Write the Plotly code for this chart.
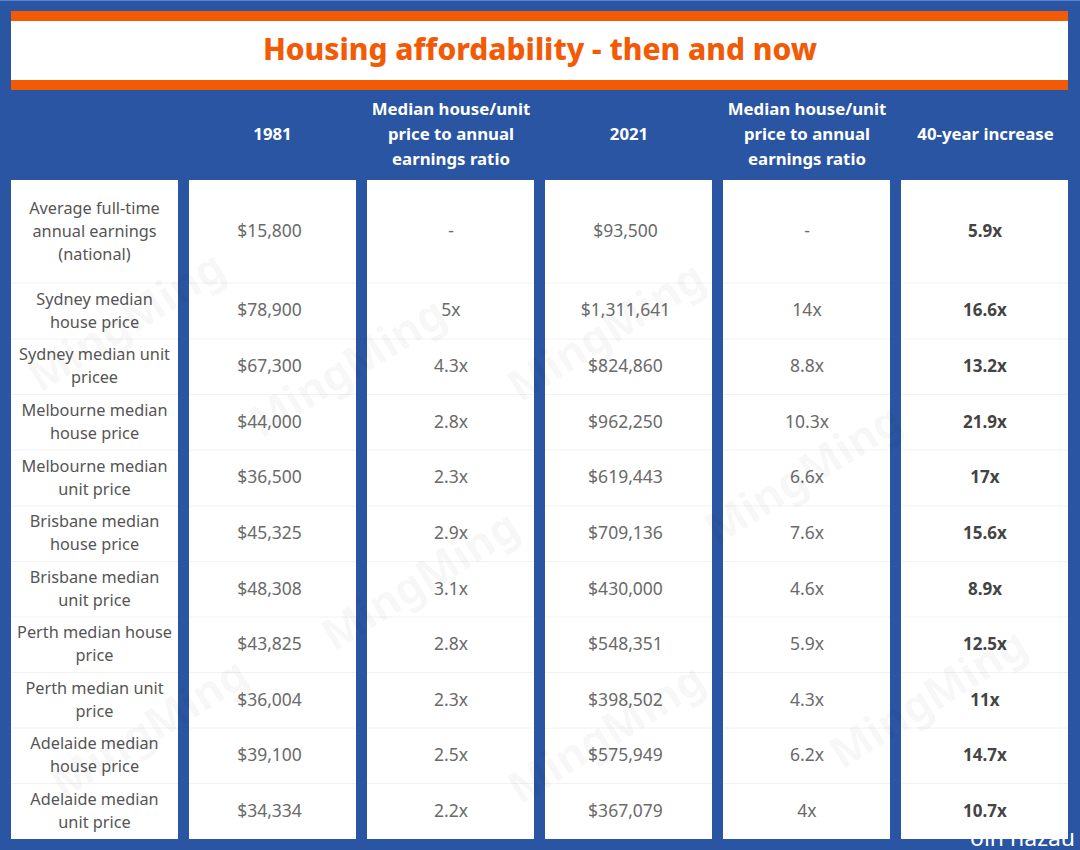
import plotly.graph_objects as go

TITLE = "Housing affordability - then and now"
headers = ["", "1981", "Median house/unit<br>price to annual<br>earnings ratio", "2021",
           "Median house/unit<br>price to annual<br>earnings ratio", "40-year increase"]
row_labels = ["Average full-time<br>annual earnings<br>(national)",
              "Sydney median<br>house price", "Sydney median unit<br>pricee",
              "Melbourne median<br>house price", "Melbourne median<br>unit price",
              "Brisbane median<br>house price", "Brisbane median<br>unit price",
              "Perth median house<br>price", "Perth median unit<br>price",
              "Adelaide median<br>house price", "Adelaide median<br>unit price"]
price_1981 = ["$15,800", "$78,900", "$67,300", "$44,000", "$36,500", "$45,325",
              "$48,308", "$43,825", "$36,004", "$39,100", "$34,334"]
ratio_1981 = ["-", "5x", "4.3x", "2.8x", "2.3x", "2.9x", "3.1x", "2.8x", "2.3x", "2.5x", "2.2x"]
price_2021 = ["$93,500", "$1,311,641", "$824,860", "$962,250", "$619,443", "$709,136",
              "$430,000", "$548,351", "$398,502", "$575,949", "$367,079"]
ratio_2021 = ["-", "14x", "8.8x", "10.3x", "6.6x", "7.6x", "4.6x", "5.9x", "4.3x", "6.2x", "4x"]
increase = ["5.9x", "16.6x", "13.2x", "21.9x", "17x", "15.6x", "8.9x", "12.5x", "11x", "14.7x", "10.7x"]
WATERMARK = "MingMing"
CREDIT = "oin hazau"

# layout geometry, in page pixels
BLUE, ORANGE = "#2a55a2", "#f25a05"
col_edges = [(11, 178), (189, 356), (367, 534), (545, 712), (723, 890), (901, 1068)]
col_text_x = [94.5, 269.5, 451, 625.5, 807, 985]
head_x = [272.5, 451, 629, 807, 985.5]
row_edges = [180, 283, 339, 394.5, 450, 506, 561.5, 617, 672.5, 728, 783.5, 839]
row_mid = [(a + b) / 2 + 1 for a, b in zip(row_edges[:-1], row_edges[1:])]
HEAD_Y, HEAD_STEP, LABEL_STEP = 136, 25, 23
wm_spots = [(125, 320), (346, 366), (605, 330), (802, 473), (419, 579), (605, 732), (148, 727), (927, 697)]

FONT = "Noto Sans, Open Sans, sans-serif"
shapes = []
def rect(x0, y0, x1, y1, color):
    shapes.append(dict(type="rect", xref="x", yref="y", x0=x0, y0=y0, x1=x1, y1=y1,
                       fillcolor=color, line_width=0, layer="below"))

rect(11, 11, 1068, 21, ORANGE)
rect(11, 21, 1068, 80, "#ffffff")
rect(11, 80, 1068, 90, ORANGE)
rect(0, 0, 1080, 1, "#5b83cf")
for a, b in col_edges:
    rect(a, 180, b, 839, "#ffffff")
    for y in row_edges[1:-1]:
        shapes.append(dict(type="line", xref="x", yref="y", x0=a, x1=b, y0=y, y1=y,
                           line=dict(color="#f2f2f2", width=1), layer="below"))

fig = go.Figure()

def add_lines(xs, ys, texts, step, size, color, weight=400):
    px, py, pt = [], [], []
    for x, y, t in zip(xs, ys, texts):
        parts = t.split("<br>")
        for i, part in enumerate(parts):
            px.append(x)
            py.append(y + (i - (len(parts) - 1) / 2) * step)
            pt.append(part)
    fig.add_trace(go.Scatter(x=px, y=py, text=pt, mode="text", hoverinfo="skip", showlegend=False,
                             textposition="middle center", cliponaxis=False,
                             textfont=dict(family=FONT, size=size, color=color, weight=weight)))

add_lines([540], [53], [TITLE], 0, 29.9, ORANGE, 800)
add_lines(head_x, [HEAD_Y] * 5, headers[1:], HEAD_STEP, 16.8, "#ffffff", 700)
add_lines([col_text_x[0]] * 11, row_mid, row_labels, LABEL_STEP, 16.3, "#555555")
add_lines([col_text_x[1]] * 11, row_mid, price_1981, 0, 17.5, "#6a6a6a")
add_lines([col_text_x[2]] * 11, row_mid, ratio_1981, 0, 17.5, "#6a6a6a")
add_lines([col_text_x[3]] * 11, row_mid, price_2021, 0, 17.5, "#6a6a6a")
add_lines([col_text_x[4]] * 11, row_mid, ratio_2021, 0, 17.5, "#6a6a6a")
add_lines([col_text_x[5]] * 11, row_mid, increase, 0, 17, "#444444", 700)

annotations = [dict(x=x, y=y, xref="x", yref="y", text=WATERMARK, showarrow=False, textangle=-32,
                    font=dict(family=FONT, size=44, color="rgba(0,0,0,0.04)", weight=700))
               for x, y in wm_spots]
annotations.append(dict(x=1022, y=837, xref="x", yref="y", text=CREDIT, showarrow=False,
                        font=dict(family=FONT, size=23, color="#ffffff")))

fig.update_layout(width=1080, height=850, margin=dict(l=0, r=0, t=0, b=0),
                  paper_bgcolor=BLUE, plot_bgcolor=BLUE, shapes=shapes, annotations=annotations,
                  xaxis=dict(range=[0, 1080], visible=False, fixedrange=True),
                  yaxis=dict(range=[850, 0], visible=False, fixedrange=True))

fig.write_html("out.html", config=dict(displayModeBar=False),
               post_script="document.body.style.margin='0';document.documentElement.style.overflow='hidden';")
